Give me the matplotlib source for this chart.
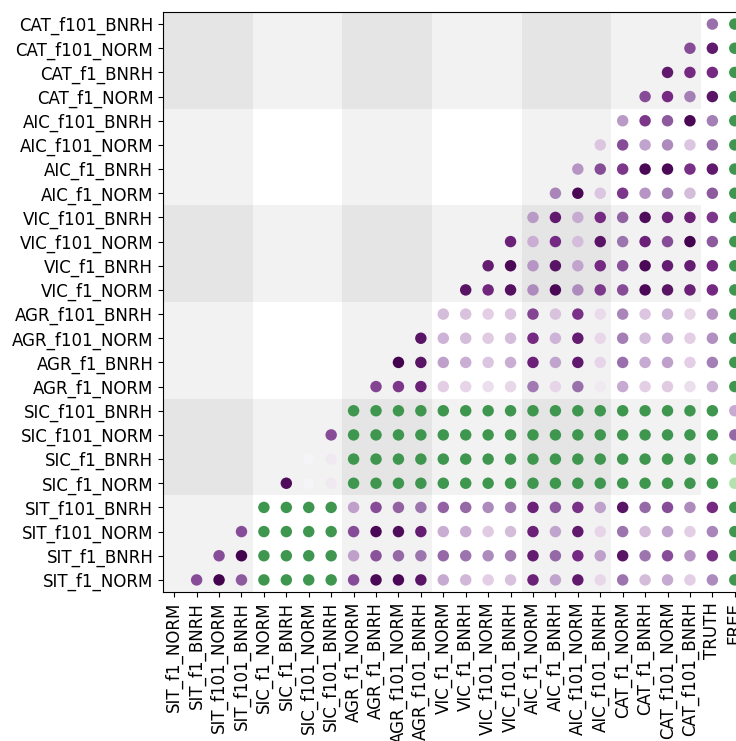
import matplotlib
matplotlib.use("Agg")
import matplotlib.pyplot as plt
from matplotlib.patches import Rectangle
import numpy as np

# Labels
row_labels = ["SIT_f1_NORM", "SIT_f1_BNRH", "SIT_f101_NORM", "SIT_f101_BNRH",
              "SIC_f1_NORM", "SIC_f1_BNRH", "SIC_f101_NORM", "SIC_f101_BNRH",
              "AGR_f1_NORM", "AGR_f1_BNRH", "AGR_f101_NORM", "AGR_f101_BNRH",
              "VIC_f1_NORM", "VIC_f1_BNRH", "VIC_f101_NORM", "VIC_f101_BNRH",
              "AIC_f1_NORM", "AIC_f1_BNRH", "AIC_f101_NORM", "AIC_f101_BNRH",
              "CAT_f1_NORM", "CAT_f1_BNRH", "CAT_f101_NORM", "CAT_f101_BNRH"]
col_labels = row_labels + ["TRUTH", "FREE"]

G = 0.84  # saturated green value

# Values (colormap position, 0 = dark purple, 1 = dark green) for each row,
# for columns j = row_index+1 ... 25
v_SIT_f1_NORM = [0.15, 0.01, 0.17, G, G, G, G, 0.15, 0.02, 0.02, 0.05,
                 0.31, 0.34, 0.39, 0.36, 0.08, 0.30, 0.06, 0.41, 0.21, 0.35, 0.31, 0.39, 0.25, G]
v_SIT_f1_BNRH = [0.15, 0.01, G, G, G, G, 0.29, 0.16, 0.19, 0.21,
                 0.19, 0.21, 0.25, 0.22, 0.07, 0.19, 0.10, 0.29, 0.05, 0.21, 0.15, 0.27, 0.11, G]
v_SIT_f101_NORM = [0.15, G, G, G, G, 0.15, 0.02, 0.03, 0.07,
                   0.32, 0.32, 0.38, 0.35, 0.08, 0.30, 0.06, 0.40, 0.21, 0.35, 0.30, 0.39, 0.24, G]
v_SIT_f101_BNRH = [G, G, G, G, 0.29, 0.15, 0.18, 0.21,
                   0.18, 0.19, 0.25, 0.22, 0.08, 0.17, 0.11, 0.29, 0.05, 0.19, 0.15, 0.25, 0.10, G]
v_SIC_f1_NORM = [0.03, 0.49, 0.46] + [G] * 17 + [0.67]
v_SIC_f1_BNRH = [0.49, 0.46] + [G] * 17 + [0.71]
v_SIC_f101_NORM = [0.15] + [G] * 17 + [0.19]
v_SIC_f101_BNRH = [G] * 17 + [0.31]
v_AGR_f1_NORM = [0.14, 0.12, 0.08, 0.39, 0.40, 0.43, 0.41, 0.22, 0.40, 0.20,
                 0.46, 0.31, 0.39, 0.38, 0.43, 0.33, G]
v_AGR_f1_BNRH = [0.01, 0.05, 0.29, 0.32, 0.37, 0.32, 0.08, 0.30, 0.06, 0.40,
                 0.20, 0.31, 0.29, 0.39, 0.23, G]
v_AGR_f101_NORM = [0.05, 0.33, 0.35, 0.38, 0.35, 0.10, 0.33, 0.07, 0.41, 0.23,
                   0.35, 0.31, 0.39, 0.26, G]
v_AGR_f101_BNRH = [0.35, 0.36, 0.39, 0.37, 0.14, 0.36, 0.11, 0.42, 0.24, 0.37,
                   0.33, 0.41, 0.27, G]
v_VIC_f1_NORM = [0.05, 0.09, 0.04, 0.25, 0.02, 0.25, 0.12, 0.15, 0.02, 0.05, 0.08, 0.10, G]
v_VIC_f1_BNRH = [0.07, 0.02, 0.27, 0.05, 0.30, 0.10, 0.16, 0.02, 0.07, 0.07, 0.10, G]
v_VIC_f101_NORM = [0.08, 0.32, 0.10, 0.35, 0.05, 0.21, 0.08, 0.15, 0.01, 0.17, G]
v_VIC_f101_BNRH = [0.28, 0.06, 0.31, 0.10, 0.18, 0.03, 0.08, 0.08, 0.12, G]
v_AIC_f1_NORM = [0.24, 0.02, 0.37, 0.12, 0.27, 0.23, 0.35, 0.17, G]
v_AIC_f1_BNRH = [0.27, 0.15, 0.12, 0.02, 0.02, 0.11, 0.06, G]
v_AIC_f101_NORM = [0.37, 0.15, 0.30, 0.25, 0.37, 0.20, G]
v_AIC_f101_BNRH = [0.28, 0.12, 0.17, 0.02, 0.23, G]
v_CAT_f1_NORM = [0.15, 0.10, 0.23, 0.05, G]
v_CAT_f1_BNRH = [0.06, 0.10, 0.10, G]
v_CAT_f101_NORM = [0.15, 0.06, G]
v_CAT_f101_BNRH = [0.20, G]

rows = [v_SIT_f1_NORM, v_SIT_f1_BNRH, v_SIT_f101_NORM, v_SIT_f101_BNRH,
        v_SIC_f1_NORM, v_SIC_f1_BNRH, v_SIC_f101_NORM, v_SIC_f101_BNRH,
        v_AGR_f1_NORM, v_AGR_f1_BNRH, v_AGR_f101_NORM, v_AGR_f101_BNRH,
        v_VIC_f1_NORM, v_VIC_f1_BNRH, v_VIC_f101_NORM, v_VIC_f101_BNRH,
        v_AIC_f1_NORM, v_AIC_f1_BNRH, v_AIC_f101_NORM, v_AIC_f101_BNRH,
        v_CAT_f1_NORM, v_CAT_f1_BNRH, v_CAT_f101_NORM, v_CAT_f101_BNRH]

ncol = len(col_labels)
nrow = len(row_labels)

xs, ys, cs = [], [], []
for i, vals in enumerate(rows):
    for k, v in enumerate(vals):
        xs.append(i + 1 + k)
        ys.append(i)
        cs.append(v)

fig = plt.figure(figsize=(7.36, 7.41), dpi=100)
ax = fig.add_axes([163 / 736, (741 - 592) / 741, 583 / 736, 580 / 741])

# background blocks
for r in range(6):
    for c in range(6):
        n = (r % 2 == 1) + (c % 2 == 0)
        if n == 0:
            continue
        col = "#f2f2f2" if n == 1 else "#e5e5e5"
        ax.add_patch(Rectangle((4 * c - 0.5, 4 * r - 0.5), 4, 4, facecolor=col,
                               edgecolor="none", zorder=0))

ax.scatter(xs, ys, c=cs, cmap="PRGn", vmin=0, vmax=1, s=68, linewidths=0, zorder=3)

ax.set_xlim(-0.5, ncol - 0.5)
ax.set_ylim(-0.5, nrow - 0.5)
ax.set_xticks(range(ncol))
ax.set_xticklabels(col_labels, rotation=90, fontsize=12)
ax.set_yticks(range(nrow))
ax.set_yticklabels(row_labels, fontsize=12)
ax.spines["right"].set_visible(False)

fig.savefig("out.png", dpi=100)
